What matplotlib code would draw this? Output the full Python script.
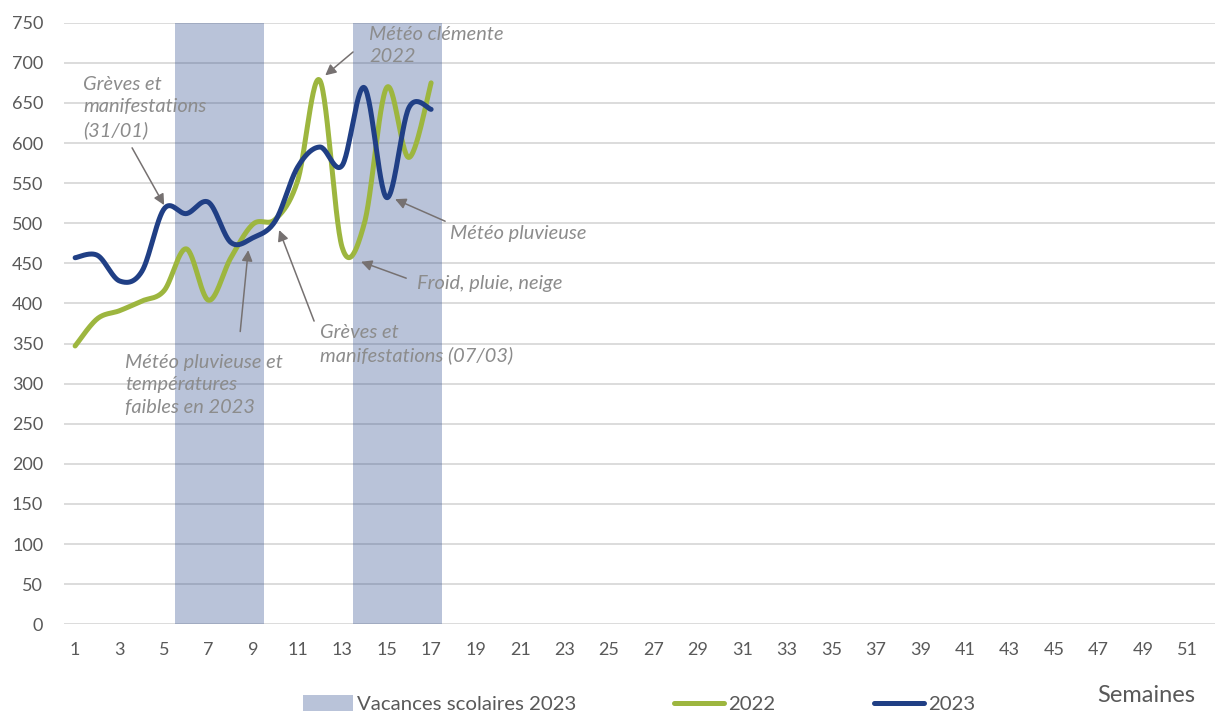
import numpy as np
import matplotlib
matplotlib.use("Agg")
import matplotlib.pyplot as plt
from matplotlib.patches import Patch
from matplotlib.lines import Line2D

plt.rcParams['font.family'] = ['Lato', 'DejaVu Sans']

# ---- data ----
weeks = list(range(1, 18))
values_2022 = [347, 381, 391, 403, 416, 468, 404, 457, 499, 505, 553, 678, 470, 500, 669, 582, 675]
values_2023 = [457, 460, 428, 440, 518, 512, 526, 476, 482, 503, 570, 595, 572, 669, 532, 644, 642]
vacances_weeks = [6, 7, 8, 9, 14, 15, 16, 17]
vacances_values = [750, 750, 750, 750, 750, 750, 750, 750]
tick_weeks = list(range(1, 52, 2))
yticks = list(range(0, 751, 50))

annotations = [
    ("Grèves et\nmanifestations\n(31/01)", (1.36, 644.5), (3.56, 594.0), (5.0, 522.6)),
    ("Météo pluvieuse et\ntempératures\nfaibles en 2023", (3.25, 298.5), (8.42, 365.0), (8.78, 466.4)),
    ("Grèves et\nmanifestations (07/03)", (12.01, 349.5), (11.74, 378.0), (10.17, 491.5)),
    ("Météo clémente\n2022", (14.21, 721.5), (13.49, 713.5), (12.24, 684.3)),
    ("Météo pluvieuse", (17.85, 487.0), (17.63, 502.5), (15.38, 530.0)),
    ("Froid, pluie, neige", (16.37, 424.5), (15.88, 431.5), (13.85, 452.0)),
]

GREEN = '#9DB63F'
BLUE = '#203F85'
GRAY_TXT = '#8C8C8C'
ARROW = '#767171'
TICK = '#595959'


def smooth(x, y, n=30):
    x = np.asarray(x, float)
    y = np.asarray(y, float)
    px = np.concatenate([[x[0]], x, [x[-1]]])
    py = np.concatenate([[y[0]], y, [y[-1]]])
    xs, ys = [], []
    for i in range(1, len(px) - 2):
        t = np.linspace(0, 1, n, endpoint=(i == len(px) - 3))
        p0x, p1x, p2x, p3x = px[i - 1], px[i], px[i + 1], px[i + 2]
        p0y, p1y, p2y, p3y = py[i - 1], py[i], py[i + 1], py[i + 2]
        c1x, c1y = p1x + (p2x - p0x) / 6, p1y + (p2y - p0y) / 6
        c2x, c2y = p2x - (p3x - p1x) / 6, p2y - (p3y - p1y) / 6
        bx = (1 - t) ** 3 * p1x + 3 * (1 - t) ** 2 * t * c1x + 3 * (1 - t) * t ** 2 * c2x + t ** 3 * p2x
        by = (1 - t) ** 3 * p1y + 3 * (1 - t) ** 2 * t * c1y + 3 * (1 - t) * t ** 2 * c2y + t ** 3 * p2y
        xs.append(bx)
        ys.append(by)
    return np.concatenate(xs), np.concatenate(ys)


fig = plt.figure(figsize=(12.15, 7.11), dpi=100)
ax = fig.add_axes([64 / 1215, (711 - 624.3) / 711, 1 - 64 / 1215, (624.3 - 22.7) / 711])

ax.bar(vacances_weeks, vacances_values, width=1.0, color=BLUE, alpha=0.31, zorder=1.6, linewidth=0)

sx, sy = smooth(weeks, values_2022)
ax.plot(sx, sy, color=GREEN, lw=3.6, solid_capstyle='round', zorder=3)
sx, sy = smooth(weeks, values_2023)
ax.plot(sx, sy, color=BLUE, lw=3.6, solid_capstyle='round', zorder=3)

ax.set_xlim(0.5, 0.5 + 1151 / 22.25)
ax.set_ylim(0, 750)
ax.set_yticks(yticks)
ax.set_xticks(tick_weeks)
ax.set_xticklabels([str(w) for w in tick_weeks])
ax.yaxis.grid(True, color='#D9D9D9', lw=1.3, zorder=1.5)
ax.set_axisbelow(True)
for s in ax.spines.values():
    s.set_visible(False)
ax.tick_params(axis='both', length=0, labelsize=13, labelcolor=TICK)
ax.tick_params(axis='y', pad=15)
ax.tick_params(axis='x', pad=13)

for text, tpos, tail, head in annotations:
    ax.text(tpos[0], tpos[1], text, ha='left', va='center', fontsize=14.4,
            style='italic', color=GRAY_TXT, linespacing=1.38, zorder=4)
    ax.annotate('', xy=head, xytext=tail,
                arrowprops=dict(arrowstyle='-|>', color=ARROW, lw=1.1,
                                mutation_scale=16, shrinkA=0, shrinkB=0), zorder=4)

handles = [Patch(facecolor=BLUE, alpha=0.31, edgecolor='none'),
           Line2D([], [], color=GREEN, lw=3.6, solid_capstyle='round'),
           Line2D([], [], color=BLUE, lw=3.6, solid_capstyle='round')]
labels = ['Vacances scolaires 2023', '2022', '2023']
leg = fig.legend(handles, labels, loc='center', bbox_to_anchor=(639 / 1215, 0.0098), ncol=3,
                 frameon=False, fontsize=14.7, handlelength=2.45, handleheight=0.9,
                 columnspacing=4.8, handletextpad=0.2)
for t in leg.get_texts():
    t.set_color(TICK)

fig.text(1195 / 1215, (711 - 695) / 711, 'Semaines', ha='right', va='center', fontsize=17, color=TICK)

fig.savefig('out.png', dpi=100)
